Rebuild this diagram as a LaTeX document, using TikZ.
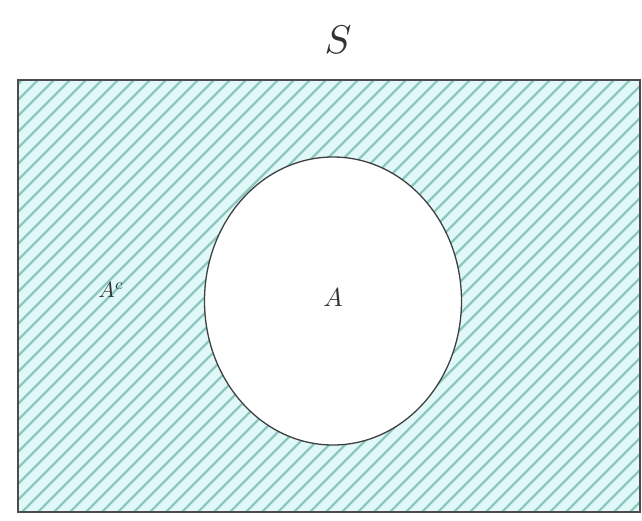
\documentclass[tikz,border=0pt]{standalone}
\usetikzlibrary{shapes.geometric}
\definecolor{hatchcol}{RGB}{140,200,192}
\definecolor{bgcol}{RGB}{224,248,248}
\begin{document}
\begin{tikzpicture}[x=1pt,y=-1pt,
  hatch/.style={draw=hatchcol, line width=2.3pt},
  lbl/.style={inner sep=0pt, text=black!80}]
\useasboundingbox (0,0) rectangle (642,520);
\fill[bgcol] (18,80) rectangle (640,512);
\begin{scope}
  \clip (18,80) rectangle (640,512);
  \foreach \i in {0,16,...,1120} {
    \draw[hatch] (\i-450,520) -- (\i,70);
  }
\end{scope}
\node[draw=black!75, line width=1.3pt, fill=white, ellipse, minimum width=257pt, minimum height=288pt, inner sep=0pt] (A) at (333,301) {};
\draw[black!70, line width=2.5pt] (18,80) rectangle (640,512);
\node[lbl, scale=4] (S) at (338,40) {$S$};
\node[lbl, scale=2.2] (Ac) at (111,290) {$A^c$};
\node[lbl, scale=2.6] (Alab) at (333,298) {$A$};
\end{tikzpicture}
\end{document}
